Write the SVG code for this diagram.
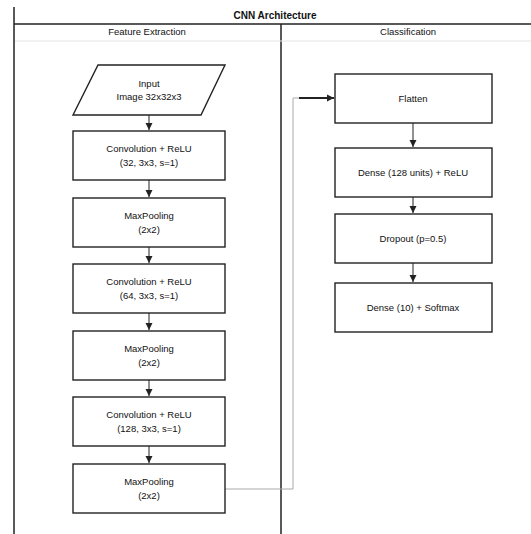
<svg xmlns="http://www.w3.org/2000/svg" width="531" height="534" viewBox="0 0 531 534">
<style>
text{font-family:"Liberation Sans",Arial,sans-serif;font-size:9.5px;fill:#111;text-anchor:middle}
.title{font-size:10px;font-weight:bold}
.lane{fill:none;stroke:#222;stroke-width:1.5}
.node{fill:#fff;stroke:#222;stroke-width:1.4}
.edge{fill:none;stroke:#222;stroke-width:1}
.edge2{fill:none;stroke:#aaa;stroke-width:1}
</style>
<defs>
<marker id="ah" markerWidth="8" markerHeight="8" refX="7" refY="4" orient="auto" markerUnits="userSpaceOnUse">
<path d="M0,0.5 L7,4 L0,7.5 z" fill="#222"/>
</marker>
</defs>
<rect width="531" height="534" fill="#fff"/>
<g id="pool">
<line class="lane" x1="14" y1="7" x2="14" y2="534"/>
<line class="lane" x1="14" y1="24" x2="540" y2="24"/>
<line class="lane" x1="281" y1="24" x2="281" y2="534"/>
<line x1="15" y1="41" x2="540" y2="41" stroke="#e4e4e4" stroke-width="1"/>
<text class="title" x="275" y="19">CNN Architecture</text>
<text x="147" y="35">Feature Extraction</text>
<text x="408" y="35">Classification</text>
</g>
<g id="connectors">
<line class="edge" x1="149" y1="115" x2="149" y2="130" marker-end="url(#ah)"/>
<line class="edge" x1="149" y1="180" x2="149" y2="197" marker-end="url(#ah)"/>
<line class="edge" x1="149" y1="247" x2="149" y2="263" marker-end="url(#ah)"/>
<line class="edge" x1="149" y1="313" x2="149" y2="330" marker-end="url(#ah)"/>
<line class="edge" x1="149" y1="380" x2="149" y2="396" marker-end="url(#ah)"/>
<line class="edge" x1="149" y1="446" x2="149" y2="463" marker-end="url(#ah)"/>
<polyline class="edge2" points="225,489 293,489 293,98 300,98"/>
<line x1="299" y1="98" x2="334" y2="98" stroke="#222" stroke-width="2" marker-end="url(#ah)"/>
<line class="edge" x1="413" y1="123" x2="413" y2="147" marker-end="url(#ah)"/>
<line class="edge" x1="413" y1="197" x2="413" y2="213" marker-end="url(#ah)"/>
<line class="edge" x1="413" y1="263" x2="413" y2="282" marker-end="url(#ah)"/>
</g>
<g id="input">
<polygon class="node" points="98,65 225,65 201,115 73,115"/>
<text x="149" y="87">Input</text>
<text x="149" y="100">Image 32x32x3</text>
</g>
<g id="conv1">
<rect class="node" x="73" y="131" width="152" height="49"/>
<text x="149" y="152">Convolution + ReLU</text>
<text x="149" y="166">(32, 3x3, s=1)</text>
</g>
<g id="pool1">
<rect class="node" x="73" y="198" width="152" height="49"/>
<text x="149" y="219">MaxPooling</text>
<text x="149" y="233">(2x2)</text>
</g>
<g id="conv2">
<rect class="node" x="73" y="264" width="152" height="49"/>
<text x="149" y="285">Convolution + ReLU</text>
<text x="149" y="299">(64, 3x3, s=1)</text>
</g>
<g id="pool2">
<rect class="node" x="73" y="331" width="152" height="49"/>
<text x="149" y="352">MaxPooling</text>
<text x="149" y="366">(2x2)</text>
</g>
<g id="conv3">
<rect class="node" x="73" y="397" width="152" height="49"/>
<text x="149" y="418">Convolution + ReLU</text>
<text x="149" y="432">(128, 3x3, s=1)</text>
</g>
<g id="pool3">
<rect class="node" x="73" y="464" width="152" height="49"/>
<text x="149" y="485">MaxPooling</text>
<text x="149" y="499">(2x2)</text>
</g>
<g id="flatten">
<rect class="node" x="335" y="74" width="157" height="49"/>
<text x="413" y="102">Flatten</text>
</g>
<g id="dense1">
<rect class="node" x="335" y="148" width="157" height="49"/>
<text x="413" y="176">Dense (128 units) + ReLU</text>
</g>
<g id="dropout">
<rect class="node" x="335" y="214" width="157" height="49"/>
<text x="413" y="242">Dropout (p=0.5)</text>
</g>
<g id="dense2">
<rect class="node" x="335" y="283" width="157" height="49"/>
<text x="413" y="311">Dense (10) + Softmax</text>
</g>
</svg>
